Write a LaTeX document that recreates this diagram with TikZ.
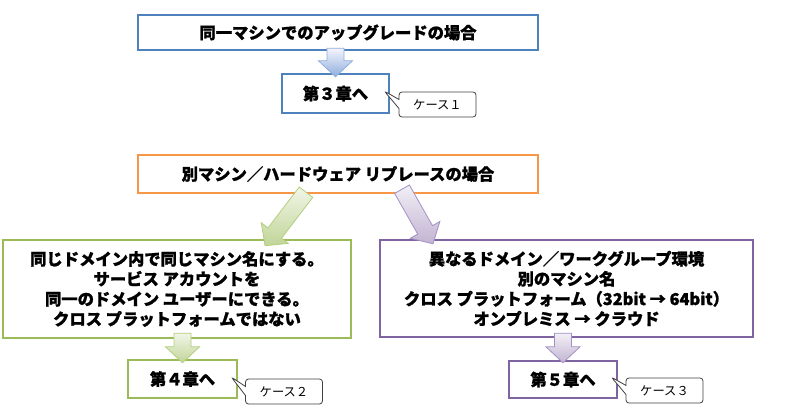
\documentclass[tikz,border=0pt]{standalone}
\usepackage{fontspec}
\setmainfont{Noto Sans CJK JP}[BoldFeatures={FakeBold=1.2}]
\usepackage{xcolor}
\usepackage{tikz}
\usetikzlibrary{positioning, calc, shapes.callouts}
\definecolor{sameB}{HTML}{4F81BD}
\definecolor{replO}{HTML}{F79646}
\definecolor{domG}{HTML}{9BBB59}
\definecolor{xplP}{HTML}{8064A2}
\definecolor{arrBd}{HTML}{8EAEDB}
\definecolor{arrGd}{HTML}{B3CF7C}
\definecolor{arrPd}{HTML}{A391C4}

\tikzset{
  casebox/.style={draw=#1, line width=2.4pt, fill=white, inner sep=0pt, align=center,
    font=\fontsize{16.3}{20}\selectfont\bfseries},
  tagnote/.style={rectangle callout, draw=black!75, line width=0.8pt, fill=white,
    rounded corners=3pt, minimum width=77pt, minimum height=25pt, inner sep=0pt,
    callout pointer width=9pt, font=\fontsize{12.3}{14}\selectfont},
  arrowB/.style={draw=arrBd, line width=0.8pt, top color=blue!4!white, bottom color=arrBd},
  arrowG/.style={draw=arrGd, line width=0.8pt, top color=domG!14!white, bottom color=domG!62!white},
  arrowP/.style={draw=arrPd, line width=0.8pt, top color=xplP!10!white, bottom color=xplP!48!white},
}

% block arrow from #2 to #3, filled with style #1
\newcommand\blockarrow[3]{%
  \path[#1] let \p1=(#2), \p2=(#3),
      \n1={atan2(\y2-\y1,\x2-\x1)}, \n2={veclen(\x2-\x1,\y2-\y1)} in
    ([shift={(\p1)},rotate=\n1]0pt,\sw) -- ([shift={(\p1)},rotate=\n1]{\n2*1pt-\hl},\sw)
    -- ([shift={(\p1)},rotate=\n1]{\n2*1pt-\hl},\hw) -- ([shift={(\p1)},rotate=\n1]{\n2*1pt},0pt)
    -- ([shift={(\p1)},rotate=\n1]{\n2*1pt-\hl},-\hw) -- ([shift={(\p1)},rotate=\n1]{\n2*1pt-\hl},-\sw)
    -- ([shift={(\p1)},rotate=\n1]0pt,-\sw) -- cycle;}

\begin{document}
\begin{tikzpicture}[x=1pt, y=-1pt]
  \def\sw{8.5pt}
  \def\hw{17pt}
  \def\hl{16pt}
  \useasboundingbox (0,0) rectangle (800,410);
  % same machine
  \node[casebox=sameB, minimum width=400pt, minimum height=35pt] (same) at (338,32.5)
     {同一マシンでのアップグレードの場合};
  \node[casebox=sameB, minimum width=107pt, minimum height=39pt] (ch3) at (335.5,93.5)
     {第３章へ};
  % other machine
  \node[casebox=replO, minimum width=400pt, minimum height=38pt] (repl) at (338,174)
     {別マシン／ハードウェア リプレースの場合};
  \node[casebox=domG, minimum width=348pt, minimum height=98pt] (dom) at (177,289)
     {同じドメイン内で同じマシン名にする。\\サービス アカウントを\\同一のドメイン ユーザーにできる。\\クロス プラットフォームではない};
  \node[casebox=xplP, minimum width=373pt, minimum height=97pt] (xpl) at (566.5,288.5)
     {異なるドメイン／ワークグループ環境\\別のマシン名\\クロス プラットフォーム（32bit → 64bit）\\オンプレミス → クラウド};
  \node[casebox=domG, minimum width=109pt, minimum height=38pt] (ch4) at (182.5,379)
     {第４章へ};
  \node[casebox=xplP, minimum width=108pt, minimum height=37pt] (ch5) at (563,379.5)
     {第５章へ};
  % block arrows
  \blockarrow{arrowB}{$(ch3.north |- same.south)+(0,-3)$}{$(ch3.north)+(0,4)$}
  \blockarrow{arrowG}{$(repl.south)+(-32,-2)$}{$(dom.north)+(88,7)$}
  \blockarrow{arrowP}{$(repl.south)+(64,-5)$}{$(xpl.north)+(-133.5,5)$}
  \blockarrow{arrowG}{$(ch4.north |- dom.south)+(0,-6)$}{$(ch4.north)+(0,4)$}
  \blockarrow{arrowP}{$(ch5.north |- xpl.south)+(0,-5)$}{$(ch5.north)+(0,3)$}
  % case notes
  \foreach \nm/\tgt/\cx/\cy/\dx/\dy/\lab in {%
    c1/ch3/437.5/104.5/-6/-2.5/ケース１,
    c2/ch4/284/391.5/-7/-2/ケース２,
    c3/ch5/664.5/390.5/-7/-2.5/ケース３}{
    \node[tagnote, callout absolute pointer={($(\tgt.east)+(\dx,\dy)$)}] (\nm) at (\cx,\cy) {\lab};
  }
\end{tikzpicture}
\end{document}
